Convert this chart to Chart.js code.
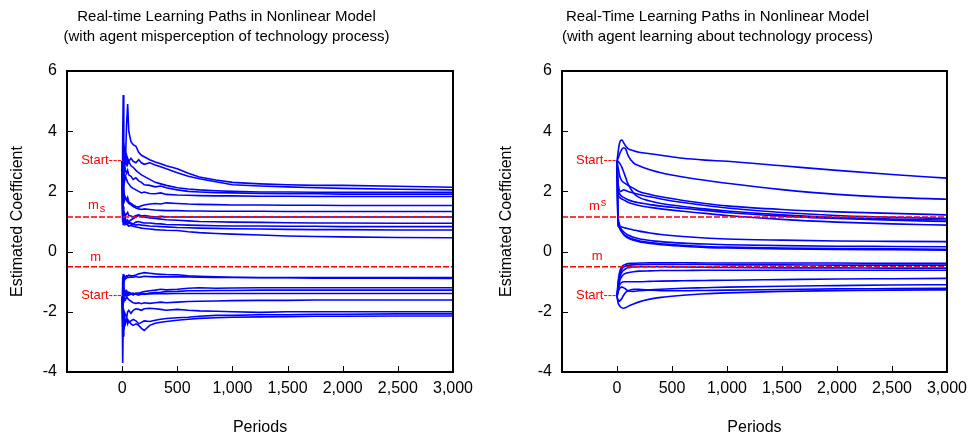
<!DOCTYPE html>
<html>
<head>
<meta charset="utf-8">
<script src="https://cdn.jsdelivr.net/npm/chart.js@4.4.1/dist/chart.umd.min.js"></script>
<style>
  body { margin: 0; background: #fff; }
  .wrap { display: flex; width: 974px; height: 442px; }
  .panel { position: relative; width: 487px; height: 442px; }
</style>
</head>
<body>
<div class="wrap">
  <div class="panel"><canvas id="leftChart"></canvas></div>
  <div class="panel"><canvas id="rightChart"></canvas></div>
</div>
<script>
// reference levels
const msValue = 1.15;
const mValue = -0.5;
const xMin = -500;
const xMax = 3000;

// left panel: misperception (noisy paths)
const leftPeriods = [0, 5, 10, 15, 20, 30, 40, 50, 60, 80, 100, 125, 150, 175, 200, 250, 300, 350, 400, 500, 600, 700, 850, 1000, 1250, 1500, 1750, 2000, 2500, 3000];

const leftUpper = [
  [3.0, 3.8, 5.2, 2.4, 3.5, 3.1, 3.2, 2.9, 3.0, 3.1, 3.0, 2.95, 3.05, 2.95, 2.9, 2.95, 2.88, 2.82, 2.75, 2.62, 2.5, 2.42, 2.32, 2.22, 2.18, 2.15, 2.12, 2.1, 2.07, 2.05],
  [3.0, 2.5, 3.6, 3.0, 3.3, 3.0, 4.2, 4.9, 4.0, 3.65, 3.55, 3.5, 3.3, 3.2, 3.15, 3.05, 2.98, 2.92, 2.85, 2.75, 2.6, 2.48, 2.38, 2.3, 2.25, 2.22, 2.2, 2.2, 2.17, 2.14],
  [3.0, 3.5, 2.2, 3.1, 2.8, 3.0, 2.9, 3.1, 3.0, 2.85, 2.8, 2.7, 2.62, 2.55, 2.5, 2.4, 2.3, 2.25, 2.2, 2.12, 2.08, 2.05, 2.02, 2.0, 1.98, 1.98, 1.97, 1.97, 1.97, 1.97],
  [3.0, 2.2, 3.3, 2.6, 2.9, 2.7, 2.6, 2.7, 2.55, 2.5, 2.4, 2.45, 2.35, 2.3, 2.22, 2.2, 2.15, 2.18, 2.12, 2.05, 2.0, 1.98, 1.96, 1.95, 1.93, 1.92, 1.92, 1.91, 1.91, 1.91],
  [3.0, 2.0, 2.5, 2.9, 2.3, 2.5, 2.4, 2.3, 2.25, 2.15, 2.1, 2.05, 2.0, 1.95, 1.98, 1.93, 1.92, 1.95, 1.9, 1.88, 1.87, 1.86, 1.85, 1.85, 1.84, 1.84, 1.83, 1.83, 1.83, 1.83],
  [3.0, 1.8, 2.2, 1.6, 1.9, 1.75, 1.7, 1.8, 1.65, 1.6, 1.55, 1.5, 1.48, 1.52, 1.55, 1.58, 1.6, 1.58, 1.62, 1.6, 1.58, 1.57, 1.56, 1.55, 1.55, 1.54, 1.54, 1.53, 1.53, 1.53],
  [3.0, 1.5, 1.9, 2.1, 1.7, 1.8, 1.75, 1.65, 1.6, 1.55, 1.5, 1.45, 1.42, 1.4, 1.42, 1.4, 1.38, 1.37, 1.36, 1.36, 1.35, 1.35, 1.34, 1.34, 1.34, 1.33, 1.33, 1.33, 1.33, 1.33],
  [3.0, 1.2, 1.5, 1.0, 1.3, 1.2, 1.25, 1.3, 1.2, 1.18, 1.15, 1.2, 1.22, 1.18, 1.2, 1.17, 1.15, 1.17, 1.16, 1.15, 1.15, 1.15, 1.15, 1.15, 1.15, 1.15, 1.15, 1.15, 1.15, 1.15],
  [3.0, 1.0, 1.3, 1.1, 0.95, 1.05, 1.0, 0.95, 1.0, 1.05, 1.1, 1.15, 1.2, 1.17, 1.15, 1.12, 1.1, 1.08, 1.06, 1.04, 1.02, 1.0, 0.99, 0.98, 0.97, 0.96, 0.95, 0.95, 0.94, 0.94],
  [3.0, 1.4, 1.0, 1.2, 1.1, 0.95, 1.0, 1.05, 0.98, 0.95, 0.92, 0.98, 1.0, 0.97, 0.95, 0.95, 0.93, 0.92, 0.9, 0.89, 0.88, 0.87, 0.86, 0.85, 0.85, 0.84, 0.84, 0.83, 0.83, 0.83],
  [3.0, 1.1, 0.9, 1.3, 1.0, 1.1, 0.95, 0.9, 0.95, 0.92, 0.9, 0.88, 0.9, 0.88, 0.87, 0.85, 0.84, 0.83, 0.82, 0.8, 0.79, 0.78, 0.77, 0.76, 0.75, 0.74, 0.73, 0.73, 0.72, 0.72],
  [3.0, 1.0, 1.2, 0.95, 1.05, 0.9, 0.92, 0.88, 0.85, 0.87, 0.84, 0.82, 0.8, 0.78, 0.77, 0.75, 0.73, 0.72, 0.71, 0.7, 0.66, 0.63, 0.6, 0.58, 0.55, 0.52, 0.5, 0.49, 0.47, 0.46]
];

const leftLower = [
  [-1.5, -0.9, -0.75, -1.1, -0.8, -0.85, -0.8, -0.82, -0.78, -0.8, -0.8, -0.78, -0.74, -0.72, -0.7, -0.72, -0.74, -0.75, -0.76, -0.77, -0.8, -0.82, -0.84, -0.85, -0.86, -0.86, -0.86, -0.86, -0.86, -0.86],
  [-1.5, -1.0, -1.3, -0.85, -0.95, -0.9, -0.88, -0.85, -0.86, -0.84, -0.85, -0.83, -0.85, -0.84, -0.82, -0.83, -0.84, -0.83, -0.84, -0.83, -0.84, -0.85, -0.86, -0.86, -0.87, -0.87, -0.88, -0.88, -0.88, -0.89],
  [-1.5, -1.3, -1.1, -1.4, -1.25, -1.35, -1.3, -1.4, -1.35, -1.38, -1.42, -1.4, -1.38, -1.35, -1.33, -1.3, -1.28, -1.25, -1.27, -1.25, -1.22, -1.2, -1.22, -1.21, -1.2, -1.2, -1.2, -1.2, -1.2, -1.2],
  [-1.5, -1.7, -1.2, -1.5, -1.35, -1.45, -1.4, -1.35, -1.42, -1.4, -1.38, -1.42, -1.45, -1.4, -1.42, -1.38, -1.36, -1.35, -1.33, -1.32, -1.3, -1.3, -1.29, -1.29, -1.28, -1.28, -1.28, -1.28, -1.28, -1.28],
  [-1.5, -1.2, -1.6, -1.3, -1.45, -1.4, -1.5, -1.42, -1.45, -1.4, -1.44, -1.38, -1.4, -1.42, -1.4, -1.41, -1.4, -1.39, -1.4, -1.39, -1.39, -1.39, -1.39, -1.39, -1.39, -1.39, -1.39, -1.39, -1.39, -1.39],
  [-1.5, -1.9, -1.4, -1.7, -1.55, -1.6, -1.5, -1.55, -1.6, -1.65, -1.7, -1.72, -1.7, -1.73, -1.7, -1.72, -1.7, -1.68, -1.7, -1.68, -1.66, -1.65, -1.64, -1.63, -1.62, -1.62, -1.61, -1.61, -1.61, -1.61],
  [-1.5, -2.5, -2.1, -2.4, -2.0, -2.1, -2.2, -2.0, -1.95, -2.05, -1.95, -1.9, -1.92, -1.95, -1.9, -1.88, -1.9, -1.92, -1.95, -1.92, -1.95, -1.97, -1.98, -2.0, -2.02, -2.0, -2.0, -2.0, -2.0, -2.0],
  [-1.5, -3.7, -2.3, -2.6, -2.2, -2.4, -2.3, -2.25, -2.35, -2.3, -2.25, -2.3, -2.4, -2.35, -2.3, -2.32, -2.28, -2.25, -2.22, -2.2, -2.18, -2.15, -2.12, -2.12, -2.1, -2.1, -2.08, -2.08, -2.07, -2.07],
  [-1.5, -2.2, -2.8, -2.3, -2.5, -2.3, -2.2, -2.4, -2.3, -2.4, -2.45, -2.4, -2.45, -2.55, -2.62, -2.45, -2.38, -2.35, -2.32, -2.28, -2.25, -2.22, -2.2, -2.18, -2.17, -2.16, -2.15, -2.15, -2.14, -2.14]
];

// right panel: agent learning (smooth paths)
const rightPeriods = [0, 10, 20, 30, 45, 60, 80, 100, 150, 200, 300, 400, 600, 800, 1000, 1500, 2000, 2500, 3000];

const rightUpper = [
  [3.0, 3.3, 3.55, 3.68, 3.71, 3.62, 3.5, 3.42, 3.35, 3.3, 3.25, 3.2, 3.1, 3.04, 3.0, 2.85, 2.7, 2.56, 2.44],
  [3.0, 3.1, 3.2, 3.3, 3.4, 3.45, 3.4, 3.2, 2.95, 2.85, 2.72, 2.62, 2.48, 2.37, 2.27, 2.06, 1.9, 1.8, 1.74],
  [3.0, 2.8, 2.6, 2.45, 2.35, 2.3, 2.25, 2.2, 2.1, 2.0, 1.9, 1.82, 1.7, 1.6, 1.52, 1.4, 1.32, 1.27, 1.22],
  [3.0, 2.3, 2.05, 2.0, 2.02, 2.05, 2.03, 2.0, 1.95, 1.9, 1.82, 1.75, 1.63, 1.53, 1.45, 1.3, 1.2, 1.14, 1.1],
  [3.0, 3.0, 2.95, 2.9, 2.8, 2.65, 2.45, 2.25, 1.95, 1.8, 1.68, 1.6, 1.5, 1.42, 1.35, 1.22, 1.13, 1.08, 1.05],
  [3.0, 2.1, 1.95, 1.88, 1.83, 1.8, 1.76, 1.72, 1.66, 1.62, 1.56, 1.51, 1.44, 1.37, 1.3, 1.18, 1.1, 1.04, 1.0],
  [3.0, 1.9, 1.82, 1.78, 1.75, 1.72, 1.68, 1.64, 1.58, 1.53, 1.47, 1.42, 1.34, 1.27, 1.2, 1.07, 0.98, 0.92, 0.88],
  [3.0, 1.0, 0.85, 0.83, 0.82, 0.8, 0.78, 0.76, 0.72, 0.68, 0.62, 0.57, 0.5, 0.45, 0.42, 0.38, 0.35, 0.34, 0.33],
  [3.0, 0.85, 0.82, 0.78, 0.72, 0.66, 0.6, 0.55, 0.48, 0.43, 0.37, 0.33, 0.28, 0.25, 0.23, 0.2, 0.18, 0.17, 0.16],
  [3.0, 0.9, 0.8, 0.72, 0.64, 0.58, 0.52, 0.48, 0.41, 0.36, 0.3, 0.26, 0.21, 0.17, 0.15, 0.12, 0.1, 0.09, 0.08],
  [3.0, 1.2, 0.95, 0.8, 0.66, 0.57, 0.5, 0.45, 0.38, 0.33, 0.27, 0.23, 0.18, 0.14, 0.12, 0.09, 0.07, 0.06, 0.05]
];

const rightLower = [
  [-1.5, -1.0, -0.75, -0.6, -0.5, -0.45, -0.42, -0.4, -0.39, -0.38, -0.37, -0.37, -0.37, -0.38, -0.38, -0.38, -0.38, -0.39, -0.39],
  [-1.5, -1.1, -0.85, -0.7, -0.58, -0.52, -0.48, -0.46, -0.44, -0.43, -0.42, -0.42, -0.43, -0.43, -0.44, -0.44, -0.45, -0.45, -0.45],
  [-1.5, -1.2, -0.95, -0.8, -0.68, -0.62, -0.57, -0.54, -0.51, -0.5, -0.5, -0.5, -0.51, -0.52, -0.53, -0.54, -0.54, -0.55, -0.55],
  [-1.5, -1.25, -1.05, -0.92, -0.82, -0.76, -0.72, -0.7, -0.67, -0.65, -0.64, -0.63, -0.63, -0.62, -0.62, -0.62, -0.62, -0.62, -0.62],
  [-1.5, -1.3, -1.15, -1.07, -1.02, -1.0, -1.0, -1.0, -1.0, -1.0, -0.99, -0.98, -0.97, -0.96, -0.95, -0.93, -0.91, -0.9, -0.89],
  [-1.5, -1.35, -1.25, -1.2, -1.18, -1.2, -1.25, -1.3, -1.32, -1.3, -1.27, -1.25, -1.22, -1.2, -1.18, -1.15, -1.13, -1.11, -1.1],
  [-1.5, -1.6, -1.65, -1.62, -1.55, -1.45, -1.35, -1.3, -1.25, -1.25, -1.28, -1.3, -1.3, -1.29, -1.28, -1.26, -1.24, -1.23, -1.22],
  [-1.5, -1.7, -1.78, -1.83, -1.87, -1.88, -1.86, -1.82, -1.74, -1.67, -1.58, -1.52, -1.45, -1.4, -1.37, -1.32, -1.3, -1.28, -1.27]
];

const yTicks = [-4, -2, 0, 2, 4, 6];

const FONT = 'Liberation Sans, Arial, sans-serif';

function pathSet(periods, values, smooth) {
  return {
    data: periods.map((p, i) => ({ x: p, y: values[i] })),
    borderColor: '#0000ff',
    borderWidth: 1.6,
    pointRadius: 0,
    fill: false,
    tension: smooth ? 0.4 : 0,
    cubicInterpolationMode: smooth ? 'monotone' : 'default',
    order: 1
  };
}

function refLine(value) {
  return {
    data: [{ x: xMin, y: value }, { x: xMax, y: value }],
    borderColor: '#ff0000',
    borderWidth: 1.5,
    borderDash: [6, 2],
    pointRadius: 0,
    fill: false,
    order: 0
  };
}

// frame, inward tick marks and red notes
const framePlugin = {
  id: 'frame',
  afterDatasetsDraw(chart, args, opts) {
    const { ctx, chartArea: a, scales } = chart;
    ctx.save();
    ctx.strokeStyle = '#000';
    ctx.lineWidth = 1;
    ctx.beginPath();
    scales.x.ticks.forEach(t => {
      if (t.value <= scales.x.min || t.value >= scales.x.max) return;
      const px = Math.round(scales.x.getPixelForValue(t.value)) + 0.5;
      ctx.moveTo(px, a.bottom);
      ctx.lineTo(px, a.bottom - 6);
    });
    scales.y.ticks.forEach(t => {
      const py = Math.round(scales.y.getPixelForValue(t.value)) + 0.5;
      ctx.moveTo(a.left, py);
      ctx.lineTo(a.left + 6, py);
    });
    ctx.stroke();
    ctx.lineWidth = 2;
    ctx.strokeRect(a.left, a.top, a.right - a.left, a.bottom - a.top);

    ctx.fillStyle = '#ff0000';
    ctx.textBaseline = 'middle';
    (opts.notes || []).forEach(n => {
      const px = scales.x.getPixelForValue(n.x);
      const py = scales.y.getPixelForValue(n.y);
      ctx.font = '13px ' + FONT;
      ctx.textAlign = n.align || 'left';
      ctx.fillText(n.text, px, py);
      if (n.sub || n.sup) {
        const w = ctx.measureText(n.text).width;
        ctx.font = '11px ' + FONT;
        ctx.textAlign = 'left';
        ctx.fillText(n.sub || n.sup, px + w + 1, py + (n.sub ? 4 : -3));
      }
    });
    ctx.restore();
  }
};

function makeChart(id, title, datasets, notes, yWidth, rightPad, yTitlePad) {
  return new Chart(document.getElementById(id), {
    type: 'line',
    data: { datasets: datasets },
    plugins: [framePlugin],
    options: {
      responsive: true,
      maintainAspectRatio: false,
      animation: false,
      events: [],
      layout: { padding: { top: 0, right: rightPad, bottom: 0, left: 0 } },
      plugins: {
        legend: { display: false },
        tooltip: { enabled: false },
        title: {
          display: true,
          text: title,
          color: '#000',
          font: { family: FONT, size: 15, weight: 'normal', lineHeight: 20 / 15 },
          padding: { top: 7, bottom: 24 }
        },
        frame: { notes: notes }
      },
      scales: {
        x: {
          type: 'linear',
          min: xMin,
          max: xMax,
          grid: { display: false, drawTicks: false },
          border: { display: false },
          afterFit(scale) { scale.height = 70; },
          ticks: {
            stepSize: 500,
            autoSkip: false,
            maxRotation: 0,
            padding: 7,
            color: '#000',
            font: { family: FONT, size: 16 },
            callback: v => (v < 0 ? '' : v.toLocaleString('en-US'))
          },
          title: {
            display: true,
            text: 'Periods',
            color: '#000',
            font: { family: FONT, size: 16 },
            padding: { top: 0, bottom: 5 }
          }
        },
        y: {
          min: yTicks[0],
          max: yTicks[yTicks.length - 1],
          grid: { display: false, drawTicks: false },
          border: { display: false },
          afterFit(scale) { scale.width = yWidth; },
          afterBuildTicks(scale) { scale.ticks = yTicks.map(v => ({ value: v })); },
          ticks: {
            padding: 10,
            color: '#000',
            font: { family: FONT, size: 16 }
          },
          title: {
            display: true,
            text: 'Estimated Coefficient',
            color: '#000',
            font: { family: FONT, size: 16 },
            padding: { top: yTitlePad, bottom: 0 }
          }
        }
      }
    }
  });
}

const leftSets = [refLine(msValue), refLine(mValue)]
  .concat(leftUpper.map(v => pathSet(leftPeriods, v, false)))
  .concat(leftLower.map(v => pathSet(leftPeriods, v, false)));

const rightSets = [refLine(msValue), refLine(mValue)]
  .concat(rightUpper.map(v => pathSet(rightPeriods, v, true)))
  .concat(rightLower.map(v => pathSet(rightPeriods, v, true)));

makeChart('leftChart',
  ['Real-time Learning Paths in Nonlinear Model', '(with agent misperception of technology process)'],
  leftSets,
  [
    { text: 'Start---', x: -5, y: 3.04, align: 'right' },
    { text: 'Start---', x: -5, y: -1.45, align: 'right' },
    { text: 'm', x: -310, y: 1.55, sub: 's' },
    { text: 'm', x: -290, y: -0.2 }
  ],
  67, 34, 8);

makeChart('rightChart',
  ['Real-Time Learning Paths in Nonlinear Model', '(with agent learning about technology process)'],
  rightSets,
  [
    { text: 'Start---', x: -5, y: 3.04, align: 'right' },
    { text: 'Start---', x: -5, y: -1.47, align: 'right' },
    { text: 'm', x: -255, y: 1.5, sup: 's' },
    { text: 'm', x: -230, y: -0.15 }
  ],
  75, 26, 10);
</script>
</body>
</html>
